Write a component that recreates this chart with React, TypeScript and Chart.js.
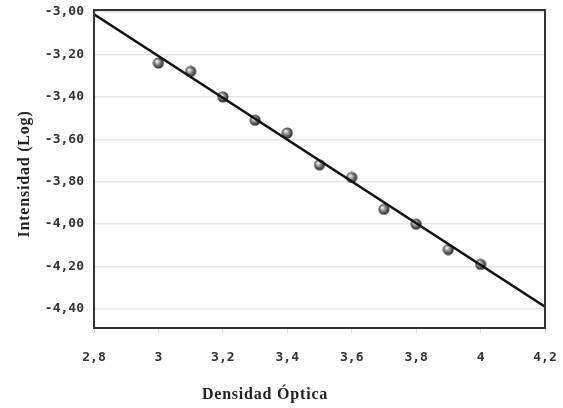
import React, { useEffect, useRef } from "react";
import { Chart, registerables } from "chart.js";

Chart.register(...registerables);

const densidad = [3.0, 3.1, 3.2, 3.3, 3.4, 3.5, 3.6, 3.7, 3.8, 3.9, 4.0];
const intensidad = [-3.24, -3.28, -3.4, -3.51, -3.57, -3.72, -3.78, -3.93, -4.0, -4.12, -4.19];
const lineX = [2.8, 4.2];
const lineY = [-3.01, -4.39];
const xTicks = [2.8, 3.0, 3.2, 3.4, 3.6, 3.8, 4.0, 4.2];
const yTicks = [-4.4, -4.2, -4.0, -3.8, -3.6, -3.4, -3.2, -3.0];
const xTitle = "Densidad Óptica";
const yTitle = "Intensidad (Log)";

function makeSphere(): HTMLCanvasElement {
  const size = 12;
  const c = document.createElement("canvas");
  c.width = size;
  c.height = size;
  const g = c.getContext("2d")!;
  const grad = g.createRadialGradient(4.2, 4.2, 0.5, 6, 6, 6);
  grad.addColorStop(0, "#f4f4f4");
  grad.addColorStop(0.35, "#9a9a9a");
  grad.addColorStop(0.8, "#3a3a3a");
  grad.addColorStop(1, "#222222");
  g.fillStyle = grad;
  g.beginPath();
  g.arc(6, 6, 5.5, 0, Math.PI * 2);
  g.fill();
  return c;
}

const frame = {
  id: "frame",
  afterDatasetsDraw(chart: any) {
    const { ctx, chartArea } = chart;
    ctx.save();
    ctx.strokeStyle = "#333333";
    ctx.lineWidth = 2;
    ctx.strokeRect(chartArea.left, chartArea.top, chartArea.right - chartArea.left, chartArea.bottom - chartArea.top);
    ctx.restore();
  },
};

const axisTitles = {
  id: "axisTitles",
  afterDraw(chart: any) {
    const ctx = chart.ctx;
    ctx.save();
    ctx.fillStyle = "#222222";
    ctx.font = "bold 16px 'Liberation Serif'";
    (ctx as any).letterSpacing = "0.8px";
    ctx.textAlign = "center";
    ctx.textBaseline = "middle";
    ctx.fillText(xTitle, 265, 395);
    ctx.translate(25, 174);
    ctx.rotate(-Math.PI / 2);
    ctx.fillText(yTitle, 0, 0);
    ctx.restore();
  },
};

export default function App() {
  const ref = useRef<HTMLCanvasElement | null>(null);
  useEffect(() => {
    if (!ref.current) return;
    const sphere = makeSphere();
    const chart = new Chart(ref.current, {
      type: "scatter",
      data: {
        datasets: [
          {
            type: "line",
            data: lineX.map((x, i) => ({ x, y: lineY[i] })),
            borderColor: "#111111",
            borderWidth: 2.5,
            pointRadius: 0,
            showLine: true,
            fill: false,
            order: 0,
          } as any,
          {
            type: "scatter",
            data: densidad.map((x, i) => ({ x, y: intensidad[i] })),
            pointStyle: sphere as any,
            pointRadius: 6,
            order: 1,
          } as any,
        ],
      },
      options: {
        responsive: false,
        animation: false,
        layout: { padding: { top: 10, right: 18, left: 0, bottom: 0 } },
        plugins: { legend: { display: false }, tooltip: { enabled: false } },
        scales: {
          x: {
            type: "linear",
            min: 2.8,
            max: 4.2,
            afterBuildTicks: (s: any) => {
              s.ticks = xTicks.map((v) => ({ value: v }));
            },
            afterFit: (s: any) => {
              s.height = 80;
              s.paddingLeft = 0;
              s.paddingRight = 0;
            },
            border: { display: false },
            grid: { drawOnChartArea: false, drawTicks: true, tickLength: 5, color: "#dddddd" },
            ticks: {
              padding: 17,
              color: "#333333",
              font: { family: "'DejaVu Sans Mono'", weight: "bold", size: 13 },
              callback: (v: any) => String(Number(Number(v).toFixed(1))).replace(".", ","),
              maxRotation: 0,
            },
          },
          y: {
            type: "linear",
            min: -4.49,
            max: -2.99,
            afterBuildTicks: (s: any) => {
              s.ticks = yTicks.map((v) => ({ value: v }));
            },
            afterFit: (s: any) => {
              s.width = 94;
              s.paddingTop = 0;
              s.paddingBottom = 0;
            },
            border: { display: false },
            grid: { drawTicks: false, color: "#e6e6e6", lineWidth: 1.5 },
            ticks: {
              padding: 10,
              color: "#333333",
              font: { family: "'DejaVu Sans Mono'", weight: "bold", size: 13 },
              callback: (v: any) => Number(v).toFixed(2).replace(".", ","),
            },
          },
        },
      },
      plugins: [frame, axisTitles],
    });
    return () => chart.destroy();
  }, []);
  return (
    <div style={{ position: "fixed", left: 0, top: 0, width: 563, height: 408, background: "#fff" }}>
      <canvas ref={ref} width={563} height={408} />
    </div>
  );
}
